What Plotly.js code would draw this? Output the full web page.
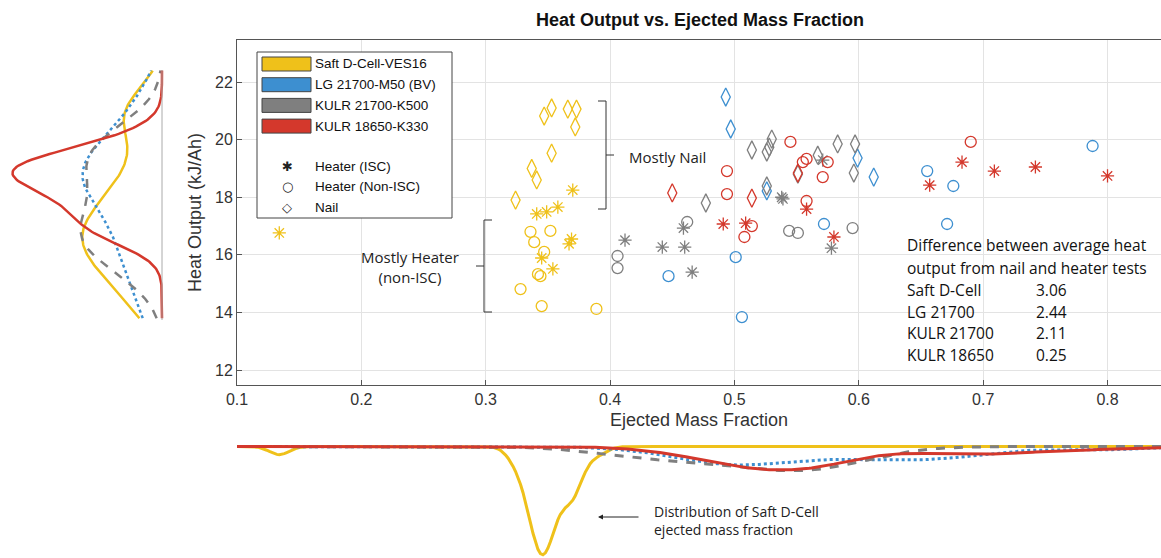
<!DOCTYPE html>
<html>
<head>
<meta charset="utf-8">
<script src="https://cdn.plot.ly/plotly-3.0.1.min.js"></script>
<style>body{margin:0;background:#fff}#chart{width:1161px;height:558px}</style>
</head>
<body>
<div id="chart"></div>
<script>
// data: [ejected mass fraction, heat output kJ/Ah]
var saftIscX = [0.134,0.370,0.341,0.349,0.358,0.369,0.367,0.345,0.354];
var saftIscY = [16.76,18.25,17.42,17.49,17.66,16.55,16.38,15.89,15.51];
var saftNonX = [0.336,0.352,0.339,0.347,0.342,0.344,0.328,0.345,0.389];
var saftNonY = [16.8,16.83,16.44,16.1,15.33,15.26,14.81,14.22,14.12];
var saftNailX = [0.347,0.353,0.366,0.373,0.372,0.353,0.337,0.341,0.324];
var saftNailY = [20.82,21.1,21.06,21.06,20.44,19.53,19.0,18.6,17.9];

var lgNonX = [0.447,0.501,0.506,0.572,0.655,0.676,0.671,0.788];
var lgNonY = [15.26,15.92,13.84,17.07,18.91,18.39,17.07,19.78];
var lgNailX = [0.493,0.497,0.526,0.599,0.612];
var lgNailY = [21.48,20.37,18.22,19.36,18.70];

var k500IscX = [0.412,0.442,0.460,0.459,0.466,0.538,0.539,0.578,0.571];
var k500IscY = [16.51,16.27,16.27,16.93,15.4,18.0,17.94,16.23,19.29];
var k500NonX = [0.406,0.406,0.462,0.544,0.551,0.595];
var k500NonY = [15.96,15.54,17.14,16.83,16.76,16.93];
var k500NailX = [0.514,0.526,0.528,0.530,0.477,0.526,0.567,0.583,0.597,0.596,0.551];
var k500NailY = [19.64,19.57,19.74,20.02,17.8,18.39,19.46,19.85,19.85,18.84,18.8];

var k330IscX = [0.491,0.509,0.558,0.580,0.657,0.683,0.709,0.742,0.800];
var k330IscY = [17.07,17.1,17.59,16.62,18.42,19.22,18.91,19.05,18.74];
var k330NonX = [0.545,0.494,0.494,0.514,0.508,0.555,0.558,0.575,0.571,0.558,0.690];
var k330NonY = [19.92,18.91,18.11,17.0,16.62,19.22,19.33,19.22,18.7,17.87,19.92];
var k330NailX = [0.450,0.514,0.551];
var k330NailY = [18.15,17.97,18.84];

var cellNames = ['Saft D-Cell-VES16','LG 21700-M50 (BV)','KULR 21700-K500','KULR 18650-K330'];
var cellColors = ['#EFC11A','#3D8FD0','#7F7F7F','#D4382C'];
var curveDash = ['solid','dot','dash','solid'];
var diffNames = ['Saft D-Cell','LG 21700','KULR 21700','KULR 18650'];
var diffValues = ['3.06','2.44','2.11','0.25'];

var groups = [
  [[saftIscX,saftIscY],[saftNonX,saftNonY],[saftNailX,saftNailY]],
  [[[],[]],[lgNonX,lgNonY],[lgNailX,lgNailY]],
  [[k500IscX,k500IscY],[k500NonX,k500NonY],[k500NailX,k500NailY]],
  [[k330IscX,k330IscY],[k330NonX,k330NonY],[k330NailX,k330NailY]]
];
var symbols = ['asterisk-open','circle-open','diamond-tall-open'];

var W = 1161, H = 558;
function px(x){return x/W;}
function py(y){return 1-y/H;}

function kde(vals, bw, lo, hi, step){
  var xs=[], ds=[];
  for (var t=lo; t<=hi+1e-9; t+=step){
    var s=0;
    for (var i=0;i<vals.length;i++){var u=(t-vals[i])/bw; s+=Math.exp(-0.5*u*u);}
    xs.push(t); ds.push(s/(vals.length*bw*Math.sqrt(2*Math.PI)));
  }
  return [xs, ds];
}

var data = [];
for (var c=0;c<4;c++){
  for (var k=0;k<3;k++){
    data.push({x:groups[c][k][0], y:groups[c][k][1], type:'scatter', mode:'markers',
      marker:{symbol:symbols[k], size:k==2?13:11, color:cellColors[c], line:{width:1.3, color:cellColors[c]}},
      showlegend:false, hoverinfo:'x+y', xaxis:'x', yaxis:'y'});
  }
}

var bwX = [0.008,0.04,0.04,0.04], bwY = [0.9,1.0,1.0,0.6];
var maxB = 0, maxL = 0;
for (var c=0;c<4;c++){
  var allX = [].concat(groups[c][0][0],groups[c][1][0],groups[c][2][0]);
  var allY = [].concat(groups[c][0][1],groups[c][1][1],groups[c][2][1]);
  var b = kde(allX, bwX[c], 0.1, 0.845, 0.002);
  var l = kde(allY, bwY[c], 13.8, 22.4, 0.05);
  maxB = Math.max(maxB, Math.max.apply(null, b[1]));
  maxL = Math.max(maxL, Math.max.apply(null, l[1]));
  data.push({x:b[0], y:b[1], type:'scatter', mode:'lines', line:{color:cellColors[c], dash:curveDash[c], width:3},
    showlegend:false, hoverinfo:'skip', xaxis:'x2', yaxis:'y2'});
  data.push({x:l[1], y:l[0], type:'scatter', mode:'lines', line:{color:cellColors[c], dash:curveDash[c], width:2.5},
    showlegend:false, hoverinfo:'skip', xaxis:'x3', yaxis:'y3'});
}

var font = 'Liberation Sans, Arial, sans-serif';
var note = 'Open Sans, Liberation Sans, sans-serif';
var shapes = [
  {type:'rect', xref:'paper', yref:'paper', x0:px(257), x1:px(452), y0:py(52), y1:py(218), line:{color:'#444', width:1}, fillcolor:'#fff'},
  // braces
  {type:'path', xref:'paper', yref:'paper', line:{color:'#333', width:1},
   path:'M '+px(598)+' '+py(101)+' L '+px(606)+' '+py(101)+' L '+px(606)+' '+py(209)+' L '+px(598)+' '+py(209)+' M '+px(606)+' '+py(155)+' L '+px(614)+' '+py(155)},
  {type:'path', xref:'paper', yref:'paper', line:{color:'#333', width:1},
   path:'M '+px(492)+' '+py(220)+' L '+px(484)+' '+py(220)+' L '+px(484)+' '+py(312)+' L '+px(492)+' '+py(312)+' M '+px(484)+' '+py(266)+' L '+px(476)+' '+py(266)},
  {type:'line', xref:'paper', yref:'paper', x0:px(162), x1:px(162), y0:py(70), y1:py(320), line:{color:'#aaa', width:1}}
];
function txt(t, x, y, opts){
  var a = {text:t, xref:'paper', yref:'paper', x:px(x), y:py(y), xanchor:'left', yanchor:'middle', align:'left', showarrow:false};
  return Object.assign(a, opts);
}
var annotations = [
  txt('<b>Heat Output vs. Ejected Mass Fraction</b>', 700, 20, {xanchor:'center', font:{family:font, size:18, color:'#111'}}),
  txt('Mostly Nail', 627, 157, {font:{family:note, size:15, color:'#222'}}),
  txt('Mostly Heater<br>(non-ISC)', 410, 267, {xanchor:'center', align:'center', font:{family:note, size:15, color:'#222'}}),
  txt('Distribution of Saft D-Cell<br>ejected mass fraction', 652, 520, {font:{family:note, size:14, color:'#222'}}),
  {text:'', xref:'paper', yref:'paper', x:px(598), y:py(517), ax:42, ay:0, showarrow:true, arrowhead:2, arrowsize:1, arrowwidth:1, arrowcolor:'#222'},
  txt('Difference between average heat', 905, 245, {font:{family:note, size:15.5, color:'#111'}}),
  txt('output from nail and heater tests', 905, 268, {font:{family:note, size:15.5, color:'#111'}})
];
for (var i=0;i<4;i++){
  var ry = 64 + i*20.7;
  shapes.push({type:'rect', xref:'paper', yref:'paper', x0:px(262), x1:px(311), y0:py(ry-7), y1:py(ry+7), fillcolor:cellColors[i], line:{color:'#444', width:1}});
  annotations.push(txt(cellNames[i], 313, ry, {font:{family:font, size:13.5, color:'#111'}}));
  annotations.push(txt(diffNames[i], 905, 290+i*21.5, {font:{family:note, size:15.5, color:'#111'}}));
  annotations.push(txt(diffValues[i], 1034, 290+i*21.5, {font:{family:note, size:15.5, color:'#111'}}));
}
var symText = ['✱','○','◇'], symLabel = ['Heater (ISC)','Heater (Non-ISC)','Nail'];
for (var i=0;i<3;i++){
  annotations.push(txt(symText[i], 287, 166+i*20.5, {xanchor:'center', font:{family:'DejaVu Sans', size:13, color:'#222'}}));
  annotations.push(txt(symLabel[i], 313, 166+i*20.5, {font:{family:font, size:13.5, color:'#111'}}));
}

var axCommon = {showline:true, linecolor:'#555', mirror:true, gridcolor:'#e3e3e3', ticks:'inside', ticklen:5, tickcolor:'#555',
  tickfont:{family:font, size:16, color:'#333'}, zeroline:false};
var layout = {
  width:W, height:H, margin:{l:0,r:0,t:0,b:0}, paper_bgcolor:'#fff', plot_bgcolor:'#fff', showlegend:false,
  xaxis:Object.assign({}, axCommon, {domain:[px(237),1], range:[0.1,0.843], dtick:0.1, tickformat:'.1f',
    title:{text:'Ejected Mass Fraction', font:{family:font, size:18, color:'#333'}, standoff:6}}),
  yaxis:Object.assign({}, axCommon, {domain:[py(385),py(40)], range:[11.48,23.46], dtick:2,
    title:{text:'Heat Output (kJ/Ah)', font:{family:font, size:18, color:'#333'}, standoff:8}}),
  xaxis2:{domain:[px(237),1], range:[0.1,0.843], visible:false, anchor:'y2'},
  yaxis2:{domain:[0,py(440)], range:[maxB*1.03, -maxB*0.06], visible:false, anchor:'x2'},
  xaxis3:{domain:[px(5),px(165)], range:[maxL*1.05, -maxL*0.02], visible:false, anchor:'y3'},
  yaxis3:{domain:[py(385),py(40)], range:[11.48,23.46], visible:false, anchor:'x3'},
  shapes:shapes, annotations:annotations
};
Plotly.newPlot('chart', data, layout, {displayModeBar:false, staticPlot:true});
</script>
</body>
</html>
